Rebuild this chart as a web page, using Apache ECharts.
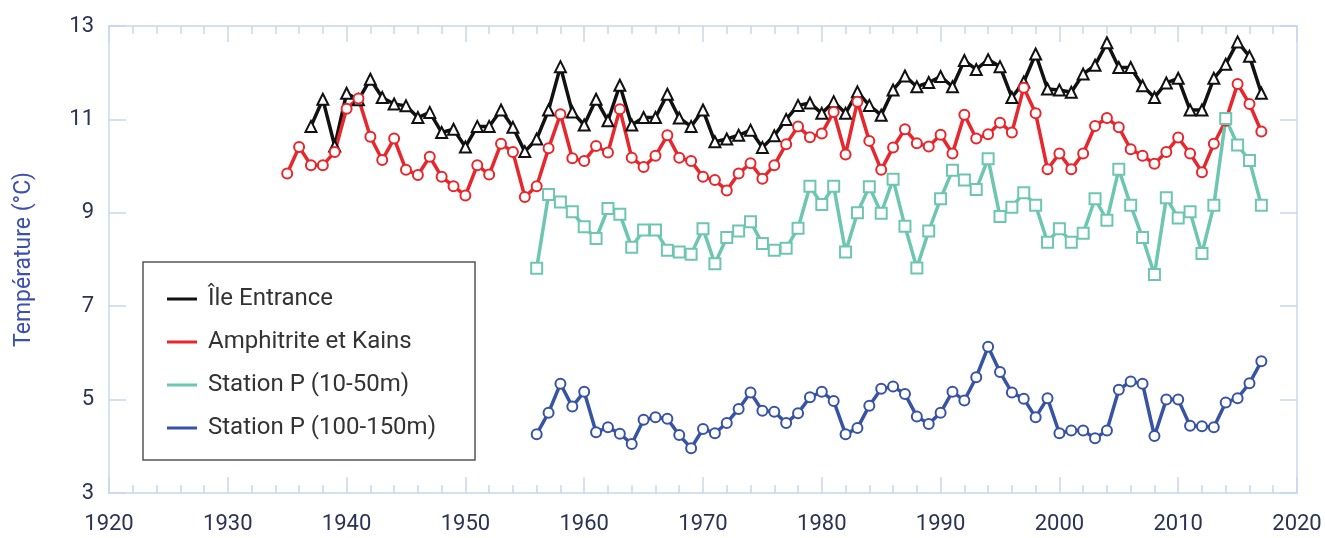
<!DOCTYPE html>
<html>
<head>
<meta charset="utf-8">
<script src="https://cdn.jsdelivr.net/npm/echarts@6/dist/echarts.min.js"></script>
<style>
html,body{margin:0;padding:0;background:#fff;}
#chart{width:1325px;height:538px;}
</style>
</head>
<body>
<div id="chart"></div>
<script>
// annual mean temperatures
var ileStart = 1937;
var ileEntrance = [10.85,11.43,10.43,11.56,11.42,11.86,11.47,11.33,11.29,11.04,
	11.15,10.72,10.79,10.41,10.85,10.85,11.20,10.83,10.31,10.58,
	11.20,12.13,11.16,10.88,11.43,10.97,11.73,10.88,11.04,11.04,
	11.54,11.03,10.85,11.20,10.52,10.58,10.66,10.77,10.40,10.65,
	11.00,11.30,11.35,11.13,11.38,11.13,11.59,11.30,11.09,11.63,
	11.93,11.70,11.79,11.92,11.70,12.26,12.07,12.28,12.13,11.47,
	11.80,12.40,11.65,11.63,11.58,11.97,12.16,12.64,12.11,12.11,
	11.72,11.47,11.78,11.88,11.20,11.20,11.88,12.18,12.66,12.35,
	11.56];

var amphStart = 1935;
var amphitrite = [9.84,10.41,10.02,10.02,10.30,11.23,11.45,10.63,10.13,10.59,
	9.92,9.81,10.20,9.77,9.57,9.37,10.02,9.82,10.48,10.30,
	9.34,9.57,10.38,11.11,10.17,10.11,10.43,10.29,11.22,10.18,
	9.98,10.22,10.66,10.18,10.11,9.77,9.70,9.48,9.84,10.06,
	9.73,10.02,10.47,10.85,10.62,10.70,11.16,10.25,11.38,10.54,
	9.92,10.40,10.79,10.49,10.42,10.67,10.27,11.10,10.59,10.68,
	10.93,10.72,11.68,11.13,9.93,10.27,9.93,10.27,10.86,11.03,
	10.83,10.36,10.22,10.05,10.30,10.61,10.27,9.87,10.48,10.97,
	11.76,11.33,10.74];

var stationPStart = 1956;
var stationP1050 = [7.81,9.39,9.23,9.02,8.70,8.45,9.09,8.97,8.26,8.63,
	8.63,8.20,8.16,8.11,8.66,7.91,8.47,8.61,8.81,8.34,
	8.20,8.24,8.67,9.57,9.18,9.57,8.16,9.00,9.56,8.99,
	9.72,8.71,7.82,8.61,9.30,9.91,9.70,9.50,10.16,8.92,
	9.12,9.43,9.16,8.37,8.66,8.37,8.56,9.30,8.84,9.93,
	9.16,8.47,7.68,9.32,8.89,9.02,8.13,9.16,11.02,10.45,
	10.12,9.16];
var stationP100150 = [4.26,4.72,5.34,4.85,5.17,4.30,4.41,4.27,4.05,4.57,
	4.62,4.59,4.24,3.96,4.37,4.28,4.50,4.80,5.15,4.76,
	4.74,4.50,4.71,5.05,5.17,4.97,4.26,4.39,4.87,5.23,
	5.28,5.12,4.64,4.48,4.72,5.17,4.98,5.48,6.13,5.59,
	5.15,5.02,4.62,5.03,4.28,4.34,4.34,4.17,4.34,5.21,
	5.39,5.34,4.22,5.00,5.00,4.44,4.43,4.41,4.94,5.03,
	5.35,5.82];

var seriesNames = ['Île Entrance','Amphitrite et Kains','Station P (10-50m)','Station P (100-150m)'];
var seriesColors = ['#111111','#e8262b','#6dc6b1','#3753a5'];
var seriesSymbols = ['triangle','circle','rect','circle'];
var symbolSizes = [11,10,11,10];

function pairs(start, vals){
	var out = [];
	for(var i=0;i<vals.length;i++){
		out.push([start+i, vals[i]]);
	}
	return out;
}

var chart = echarts.init(document.getElementById('chart'));
var axisColor = '#c9d8ec';
var labelColor = '#2b3352';
var font = 'Roboto, "Noto Sans", sans-serif';

function xAxisCfg(pos, showLabel){
	return {
		type:'value', position:pos, min:1920, max:2020, interval:10,
		axisLine:{show:true, lineStyle:{color:axisColor, width:1.5}},
		axisTick:{show:true, inside:true, length:16, lineStyle:{color:axisColor, width:1.5}},
		minorTick:{show:true, splitNumber:5, length:8, lineStyle:{color:axisColor, width:1.5}},
		splitLine:{show:false},
		axisLabel:{show:showLabel, color:labelColor, fontSize:22, fontFamily:font, margin:20,
			formatter:function(v){ return String(v); }}
	};
}
function yAxisCfg(pos, showLabel){
	var cfg = {
		type:'value', position:pos, min:3, max:13, interval:2,
		axisLine:{show:true, lineStyle:{color:axisColor, width:1.5}},
		axisTick:{show:true, inside:true, length:17, lineStyle:{color:axisColor, width:1.5}},
		splitLine:{show:false},
		axisLabel:{show:showLabel, color:labelColor, fontSize:22, fontFamily:font, margin:15}
	};
	if(showLabel){
		cfg.name = 'Température (°C)';
		cfg.nameLocation = 'middle';
		cfg.nameGap = 73;
		cfg.nameTextStyle = {color:'#3d50b0', fontSize:23, fontFamily:font};
	}
	return cfg;
}

var dataSets = [
	pairs(ileStart, ileEntrance),
	pairs(amphStart, amphitrite),
	pairs(stationPStart, stationP1050),
	pairs(stationPStart, stationP100150)
];

var series = [];
var legendData = [];
for(var k=0;k<seriesNames.length;k++){
	series.push({
		name:seriesNames[k],
		type:'line',
		xAxisIndex:0, yAxisIndex:0,
		data:dataSets[k],
		symbol:seriesSymbols[k],
		symbolSize:symbolSizes[k],
		showAllSymbol:true,
		lineStyle:{color:seriesColors[k], width:3.5},
		itemStyle:{color:'#ffffff', borderColor:seriesColors[k], borderWidth:2},
		emphasis:{disabled:true},
		animation:false
	});
	legendData.push({name:seriesNames[k], itemStyle:{color:seriesColors[k], borderWidth:0}});
}

var option = {
	animation:false,
	grid:{left:109, right:28, top:26, bottom:45, containLabel:false},
	legend:{
		orient:'vertical', left:143, top:262,
		data:legendData,
		icon:'rect', itemWidth:30, itemHeight:3, itemGap:19,
		padding:[25,39,20,24],
		borderColor:'#555555', borderWidth:1.5,
		backgroundColor:'#ffffff',
		textStyle:{color:'#333333', fontSize:24, fontFamily:font, padding:[0,0,0,6]},
		selectedMode:false
	},
	xAxis:[xAxisCfg('bottom', true), xAxisCfg('top', false)],
	yAxis:[yAxisCfg('left', true), yAxisCfg('right', false)],
	series:series
};
chart.setOption(option);
</script>
</body>
</html>
